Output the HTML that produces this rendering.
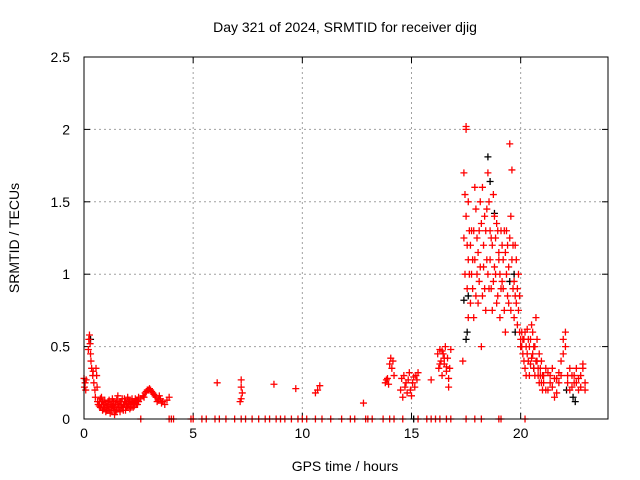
<!DOCTYPE html>
<html><head><meta charset="utf-8">
<style>
html,body{margin:0;padding:0;background:#fff;}
svg{display:block;font-family:"Liberation Sans",sans-serif;}
</style></head>
<body>
<svg id="chart" width="640" height="480" viewBox="0 0 640 480" xmlns="http://www.w3.org/2000/svg">
<rect width="640" height="480" fill="#fff"/>
<text x="345" y="32" font-size="14" text-anchor="middle">Day 321 of 2024, SRMTID for receiver djig</text>
<text x="19" y="238" font-size="14" text-anchor="middle" transform="rotate(-90 19 238)">SRMTID / TECUs</text>
<text x="345" y="471" font-size="14" text-anchor="middle">GPS time / hours</text>
<g id="grid"></g>
<g id="ticks"></g>
<g id="marks"></g>
<rect x="84" y="57" width="524" height="362" fill="none" stroke="#000" stroke-width="1"/>
</svg>
<script>
const xTicks=[0,5,10,15,20];
const yTicks=[0,0.5,1,1.5,2,2.5];
const yTickLabels=["0","0.5","1","1.5","2","2.5"];

const aT=[0,0.02,0.05,0.08,0.1,0.2,0.22,0.25,0.28,0.3,0.32,0.35,0.4,0.42,0.45,0.5,0.52,0.55,0.58,0.6,0.62,0.65];
const aV=[0.28,0.22,0.25,0.2,0.27,0.48,0.55,0.58,0.52,0.45,0.4,0.35,0.3,0.33,0.25,0.2,0.15,0.35,0.3,0.22,0.12,0.1];
const bT=[0.7,0.75,0.8,0.85,0.9,0.95,1.0,1.05,1.1,1.15,1.2,1.25,1.3,1.35,1.4,1.45,1.5,1.55,1.6,1.65,1.7,1.75,1.8,1.85,1.9,1.95,2.0,2.05,2.1,2.15,2.2,2.25,2.3,2.35,2.4,2.45,2.5];
const bV1=[0.12,0.08,0.15,0.06,0.1,0.13,0.05,0.09,0.12,0.07,0.04,0.1,0.14,0.08,0.03,0.11,0.06,0.16,0.09,0.05,0.12,0.08,0.1,0.14,0.06,0.11,0.09,0.13,0.07,0.1,0.12,0.08,0.11,0.14,0.1,0.13,0.12];
const bV2=[0.09,0.14,0.1,0.12,0.07,0.08,0.11,0.06,0.09,0.13,0.1,0.06,0.09,0.12,0.08,0.05,0.13,0.1,0.07,0.12,0.09,0.14,0.06,0.1,0.12,0.08,0.15,0.1,0.12,0.08,0.14,0.11,0.09,0.12,0.13,0.1,0.15];
const cT=[2.6,2.7,2.8,2.9,3.0,3.05,3.1,3.15,3.2,3.3,3.4,3.5,3.6,3.7,3.8,3.9,2.75,2.85,2.95,3.25,3.35,3.45,3.55];
const cV=[0.14,0.16,0.18,0.2,0.21,0.2,0.19,0.18,0.17,0.15,0.13,0.14,0.12,0.1,0.13,0.15,0.15,0.19,0.2,0.16,0.12,0.16,0.11];
const zT=[2.6,3.9,4.0,4.1,4.9,5.0,5.4,5.6,6.0,6.2,6.5,6.9,7.2,7.4,7.7,8.0,8.3,8.5,8.8,9.0,9.2,9.5,9.8,10.0,10.2,10.6,10.9,11.3,11.8,12.2,12.4,12.9,13.0,13.2,13.7,14.0,14.2,14.6,15.3,15.7,15.9,16.1,16.3,16.6,16.8,17.5,17.9,18.2,19.0,19.1,20.2];
const iT=[6.1,7.15,7.2,7.2,7.2,7.25,8.7,9.7,10.6,10.8,10.7,12.8];
const iV=[0.25,0.12,0.14,0.22,0.27,0.18,0.24,0.21,0.18,0.23,0.2,0.11];
const dT=[13.8,13.85,13.9,13.95,14.0,14.05,14.1,14.15,14.2];
const dV=[0.25,0.27,0.28,0.24,0.38,0.42,0.35,0.4,0.3];
const eT=[14.5,14.55,14.6,14.65,14.7,14.75,14.8,14.85,14.9,14.95,15.0,15.05,15.1,15.15,15.2,15.25,15.3];
const eV=[0.2,0.28,0.15,0.3,0.22,0.25,0.18,0.27,0.32,0.2,0.16,0.25,0.29,0.22,0.3,0.27,0.32];
const fT=[15.9,16.2,16.25,16.3,16.35,16.4,16.45,16.5,16.55,16.6,16.65,16.7,16.75,16.8,16.3,16.4,16.5,16.6,16.7];
const fV=[0.27,0.45,0.35,0.48,0.4,0.3,0.45,0.38,0.5,0.33,0.42,0.28,0.35,0.48,0.38,0.47,0.42,0.36,0.22];
const gT=[17.35,17.4,17.4,17.45,17.45,17.5,17.5,17.5,17.55,17.55,17.6,17.6,17.6,17.65,17.65];
const gV=[0.4,1.7,1.25,1.55,1.0,2.02,2.0,1.4,1.2,0.9,1.5,1.1,0.7,1.3,1.0];
const hT=[17.7,17.75,17.8,17.85,17.9,17.95,18.0,18.05,18.1,18.15,18.2,18.25,18.3,18.35,18.4,18.45,18.5,18.55,18.6,18.65,18.7,18.75,18.8,18.85,18.9,18.95,19.0,19.05,19.1,19.15,19.2,19.25,19.3,19.35,19.4,19.45,19.5,19.55,19.6,19.65,19.7,19.75,19.8,19.85,19.9,19.95,20.0];
const hV1=[1.2,1.0,0.9,1.3,1.1,1.45,1.0,0.8,1.3,1.5,0.5,1.6,1.2,0.9,1.3,1.1,1.7,1.5,1.3,0.9,1.2,1.55,1.4,1.0,0.8,1.3,1.1,0.7,0.9,1.2,0.9,1.3,0.6,1.0,1.2,0.8,1.9,1.4,1.1,0.9,0.7,1.2,0.8,0.9,1.0,0.6,0.55];
const hV2=[0.8,1.3,1.1,0.7,1.6,0.85,1.25,1.15,0.95,1.05,1.35,0.85,1.05,1.4,0.75,1.45,1.0,0.9,1.1,1.25,0.75,0.95,1.05,1.25,1.35,0.85,1.15,1.0,1.3,0.95,1.1,0.75,1.15,1.3,0.85,1.05,1.25,0.75,1.72,1.2,0.95,0.85,1.1,0.65,0.75,0.85,0.5];
const jT=[20.05,20.1,20.15,20.2,20.25,20.3,20.35,20.4,20.45,20.5,20.55,20.6,20.65,20.7,20.75,20.8,20.85,20.9,20.95,21.0];
const jV1=[0.6,0.45,0.55,0.35,0.5,0.62,0.4,0.3,0.55,0.65,0.45,0.35,0.5,0.7,0.4,0.3,0.45,0.35,0.25,0.3];
const jV2=[0.5,0.55,0.4,0.6,0.3,0.45,0.55,0.5,0.38,0.42,0.6,0.5,0.3,0.4,0.55,0.35,0.25,0.3,0.4,0.2];
const kT=[21.05,21.15,21.25,21.35,21.45,21.55,21.65,21.75,21.85,21.95,22.05,22.15,22.25,22.35,22.45,22.55,22.65,22.75,22.85,22.95];
const kV1=[0.25,0.35,0.2,0.3,0.22,0.28,0.18,0.25,0.4,0.55,0.5,0.3,0.35,0.22,0.3,0.25,0.2,0.3,0.35,0.25];
const kV2=[0.3,0.2,0.32,0.25,0.35,0.15,0.28,0.32,0.3,0.45,0.6,0.25,0.2,0.3,0.25,0.35,0.28,0.22,0.38,0.2];
const blackT=[0.3,15.1,17.4,17.5,17.55,17.6,18.5,18.6,18.8,19.5,19.7,19.75,20.0,20.6,22.1,22.4,22.5];
const blackV=[0.55,0,0.82,0.55,0.6,0.85,1.81,1.64,1.42,0.95,1.0,0.6,0.5,0.35,0.2,0.15,0.12];

const X0=84,X1=608,Y0=419,Y1=57,XMAX=24,YMAX=2.5;
function sx(t){return X0+(X1-X0)*t/XMAX;}
function sy(v){return Y0-(Y0-Y1)*v/YMAX;}
const NS="http://www.w3.org/2000/svg";
const grid=document.getElementById('grid'),ticks=document.getElementById('ticks'),marks=document.getElementById('marks');
function mk(tag,attrs,parent){const e=document.createElementNS(NS,tag);for(const k in attrs)e.setAttribute(k,attrs[k]);parent.appendChild(e);return e;}

xTicks.forEach((t,i)=>{
  const x=sx(t);
  if(i>0){const g=mk('line',{x1:x,y1:Y0,x2:x,y2:Y1,stroke:'#a0a0a0','stroke-width':1,'stroke-dasharray':'2,3'},grid);
  
  }
  mk('line',{x1:x,y1:Y0,x2:x,y2:Y0-6,stroke:'#000'},ticks);
  mk('line',{x1:x,y1:Y1,x2:x,y2:Y1+6,stroke:'#000'},ticks);
  const l=mk('text',{x:x,y:Y0+19,'font-size':14,'text-anchor':'middle'},ticks);
  l.textContent=String(t);
  
  
});
yTicks.forEach((v,i)=>{
  const y=sy(v);
  if(i>0&&i<yTicks.length-1){const g=mk('line',{x1:X0,y1:y,x2:X1,y2:y,stroke:'#a0a0a0','stroke-width':1,'stroke-dasharray':'2,3'},grid);
  
  }
  mk('line',{x1:X0,y1:y,x2:X0+6,y2:y,stroke:'#000'},ticks);
  mk('line',{x1:X1,y1:y,x2:X1-6,y2:y,stroke:'#000'},ticks);
  const l=mk('text',{x:X0-14,y:y+5,'font-size':14,'text-anchor':'end'},ticks);
  l.textContent=yTickLabels[i];
  
  
});
function plus(t,v,color,name){
  const x=sx(t),y=sy(v);
  const p=mk('path',{d:`M${x-3.5},${y}H${x+3.5}M${x},${y-3.5}V${y+3.5}`,stroke:color,'stroke-width':1.3,fill:'none'},marks);
  
  
}
blackT.forEach((t,i)=>plus(t,blackV[i],'#000','black-point'));
const redSets=[[aT,aV],[bT,bV1],[bT,bV2],[cT,cV],[iT,iV],[dT,dV],[eT,eV],[fT,fV],[gT,gV],[hT,hV1],[hT,hV2],[jT,jV1],[jT,jV2],[kT,kV1],[kT,kV2]];
redSets.forEach(([T,V])=>T.forEach((t,i)=>plus(t,V[i],'#ff0000','red-point')));
zT.forEach(t=>plus(t,0,'#ff0000','red-point'));
</script>
</body></html>
